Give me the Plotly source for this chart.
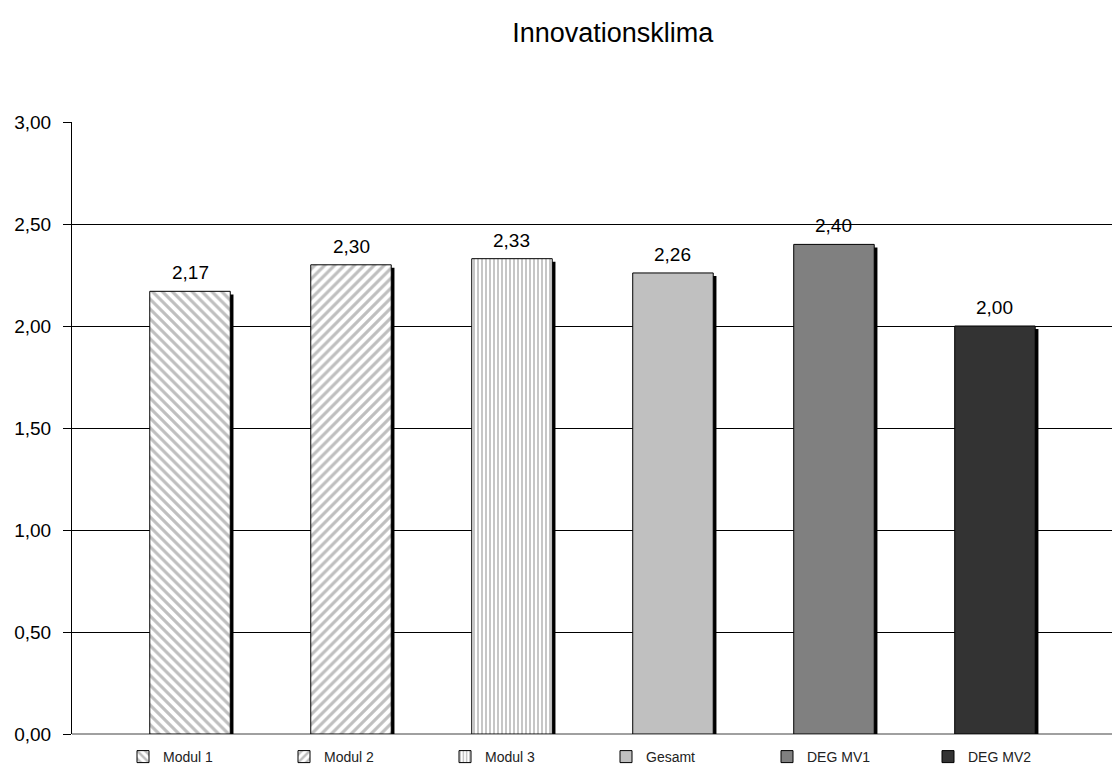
import plotly.graph_objects as go

categories = ["Modul 1", "Modul 2", "Modul 3", "Gesamt", "DEG MV1", "DEG MV2"]
values = [2.17, 2.30, 2.33, 2.26, 2.40, 2.00]
fill_colors = ["white", "white", "white", "#c0c0c0", "#808080", "#333333"]
patterns = ["\\", "/", "|", "", "", ""]
pattern_sizes = [7, 7, 4, 8, 8, 8]
y_ticks = [0.0, 0.5, 1.0, 1.5, 2.0, 2.5, 3.0]

BAR_W = 0.5
SHADOW_DX = 0.02    # shadow offset in category units
SHADOW_DY = 0.015   # shadow drop in value units

fig = go.Figure()

# drop shadows behind each bar
for i, v in enumerate(values):
    fig.add_trace(go.Bar(
        x=[i], y=[v - SHADOW_DY], width=BAR_W, offset=-BAR_W / 2 + SHADOW_DX,
        marker=dict(color="black", line=dict(width=0)),
        showlegend=False, hoverinfo="skip",
    ))

# the bars themselves, one series each
for i, (name, v) in enumerate(zip(categories, values)):
    fig.add_trace(go.Bar(
        x=[i], y=[v], name=name, width=BAR_W, offset=-BAR_W / 2,
        marker=dict(
            color=fill_colors[i],
            line=dict(color="black", width=1),
            pattern=dict(shape=patterns[i], fgcolor="#808080", bgcolor="white",
                         size=pattern_sizes[i], solidity=0.45),
        ),
    ))

# value labels above the bars
for i, v in enumerate(values):
    fig.add_annotation(
        x=i, y=v, text=f"{v:.2f}".replace(".", ","), showarrow=False,
        yanchor="bottom", yshift=6, font=dict(size=19, color="black"),
    )

fig.update_layout(
    width=1112, height=767,
    margin=dict(l=72, r=0, t=122, b=33, autoexpand=False),
    paper_bgcolor="white", plot_bgcolor="white",
    barmode="overlay",
    separators=",.",
    font=dict(family="Liberation Sans, Arial, sans-serif", color="black"),
    title=dict(text="Innovationsklima", x=0.551, xanchor="center", y=0.957, yanchor="middle",
               font=dict(size=27, color="black")),
    xaxis=dict(
        range=[-0.733, 5.727], showticklabels=False, showgrid=False, zeroline=False,
        showline=False, ticks="", fixedrange=True,
    ),
    yaxis=dict(
        range=[0, 3], tickvals=y_ticks, tickformat=".2f", showgrid=True,
        gridcolor="black", gridwidth=1, zeroline=True, zerolinecolor="#a0a0a0", zerolinewidth=2,
        showline=True, linecolor="black", linewidth=1, ticks="outside", ticklen=8,
        tickcolor="black", tickfont=dict(size=19, color="black"), ticklabelstandoff=8,
    ),
    legend=dict(
        orientation="h", xref="container", yref="container",
        x=123 / 1112, xanchor="left", y=10 / 767, yanchor="middle",
        entrywidth=116, entrywidthmode="pixels", font=dict(size=14, color="#222222"),
        bgcolor="rgba(0,0,0,0)", traceorder="normal", itemwidth=30,
    ),
)

fig.write_html("out.html")
